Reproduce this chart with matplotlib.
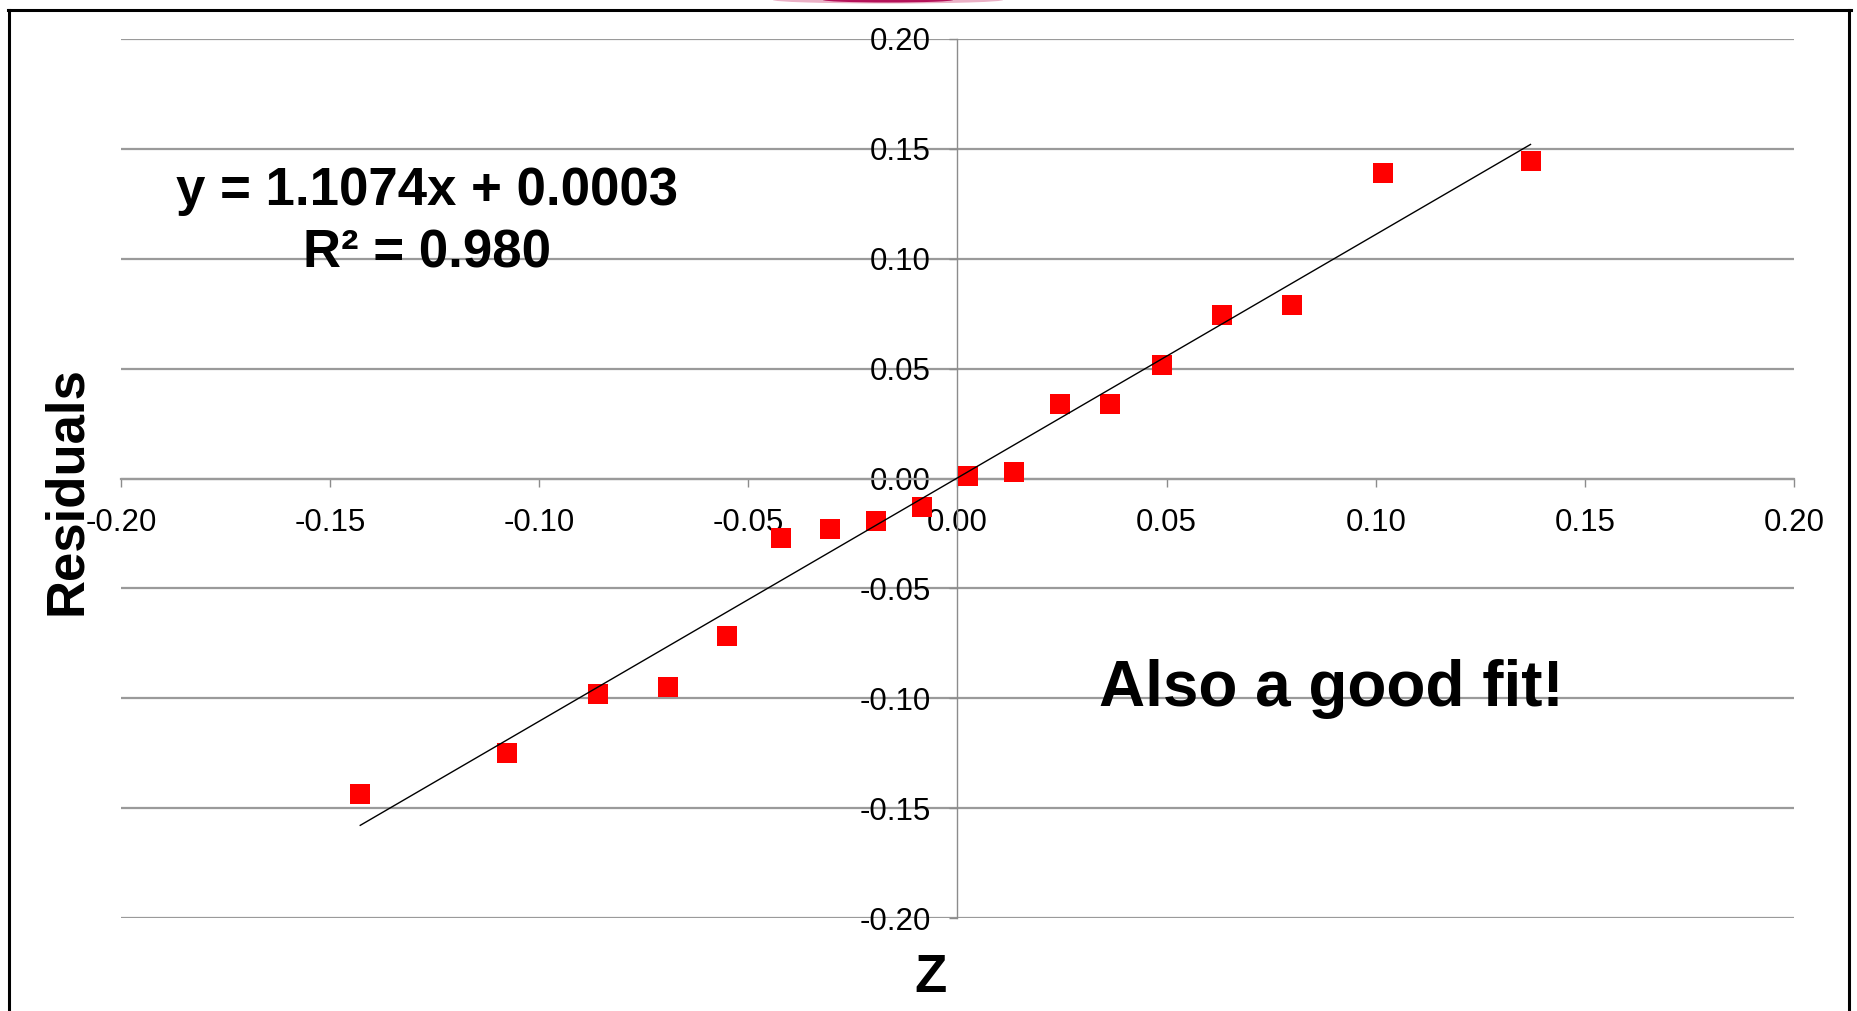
import matplotlib
matplotlib.use('Agg')
import matplotlib.pyplot as plt
from matplotlib.lines import Line2D
from matplotlib.patches import Ellipse

plt.rcParams['font.family'] = ['Liberation Sans', 'DejaVu Sans']
plt.rcParams['axes.unicode_minus'] = False

# Z-scores en residuen
z = [-0.1428, -0.1077, -0.0860, -0.0691, -0.0550, -0.0423, -0.0305, -0.0194, -0.0086,
     0.0026, 0.0134, 0.0246, 0.0364, 0.0490, 0.0633, 0.0800, 0.1018, 0.1370]
residuals = [-0.1436, -0.1251, -0.0981, -0.0950, -0.0717, -0.0272, -0.0228, -0.0195, -0.0128,
             0.0013, 0.0028, 0.0338, 0.0338, 0.0517, 0.0743, 0.0791, 0.1390, 0.1443]

# trendlijn uit de vergelijking in de figuur
slope = 1.1074
intercept = 0.0003
r2 = 0.980

ticks = [-0.20, -0.15, -0.10, -0.05, 0.00, 0.05, 0.10, 0.15, 0.20]
tick_labels = ['-0.20', '-0.15', '-0.10', '-0.05', '0.00', '0.05', '0.10', '0.15', '0.20']

W, H = 1858, 1011
fig = plt.figure(figsize=(W / 100, H / 100), dpi=100)
ax = fig.add_axes([121 / W, 1 - 918 / H, 1673 / W, 879 / H])

# assen door de oorsprong
ax.spines['left'].set_position(('data', 0))
ax.spines['bottom'].set_position(('data', 0))
ax.spines['top'].set_visible(False)
ax.spines['right'].set_visible(False)
ax.spines['left'].set_color('#8c8c8c')
ax.spines['left'].set_linewidth(1.0)
ax.spines['bottom'].set_color('#9a9a9a')
ax.spines['bottom'].set_linewidth(1.6)

ax.set_xlim(-0.2, 0.2)
ax.set_ylim(-0.2, 0.2)
ax.set_xticks(ticks)
ax.set_xticklabels(tick_labels)
ax.set_yticks(ticks)
ax.set_yticklabels(tick_labels)
ax.tick_params(axis='x', direction='out', length=6, width=1, color='#8c8c8c', pad=15, labelsize=22.5)
ax.tick_params(axis='y', direction='out', length=6, width=1, color='#8c8c8c', pad=13, labelsize=22.5)
ax.yaxis.grid(True, color='#9a9a9a', linewidth=1.6)
ax.set_axisbelow(True)

# data en trendlijn
ax.plot(z, residuals, 's', color='#ff0000', markersize=14.6, markeredgewidth=0, zorder=3)
x_fit = [min(z), max(z)]
y_fit = [slope * x + intercept for x in x_fit]
ax.plot(x_fit, y_fit, color='black', linewidth=1.0, zorder=4)

# teksten
fig.text(427 / W, 1 - 205 / H, f'y = {slope:.4f}x + {intercept:.4f}', ha='center', va='baseline',
         fontsize=38, fontweight='bold')
fig.text(427 / W, 1 - 267 / H, f'R² = {r2:.3f}', ha='center', va='baseline',
         fontsize=38, fontweight='bold')
fig.text(1331 / W, 1 - 706 / H, 'Also a good fit!', ha='center', va='baseline',
         fontsize=46, fontweight='bold')
fig.text(81 / W, 1 - 491 / H, 'Residuals', ha='center', va='baseline', rotation=90,
         rotation_mode='anchor', fontsize=38, fontweight='bold')
fig.text(931 / W, 1 - 992 / H, 'Z', ha='center', va='baseline', fontsize=38, fontweight='bold')

# kader van de dia
for xs, ys in [([8, 1851], [10, 10]), ([9.5, 9.5], [10, 1011]), ([1849.5, 1849.5], [10, 1011])]:
    fig.add_artist(Line2D([x / W for x in xs], [1 - y / H for y in ys], color='black',
                          linewidth=2.2, transform=fig.transFigure))

fig.add_artist(Ellipse((888 / W, 1.0), 230 / W, 7 / H, transform=fig.transFigure,
                       color='#eab0c5', linewidth=0))
fig.add_artist(Ellipse((888 / W, 1.0), 130 / W, 5 / H, transform=fig.transFigure,
                       color='#b5135a', linewidth=0))

fig.savefig('out.png', dpi=100)
